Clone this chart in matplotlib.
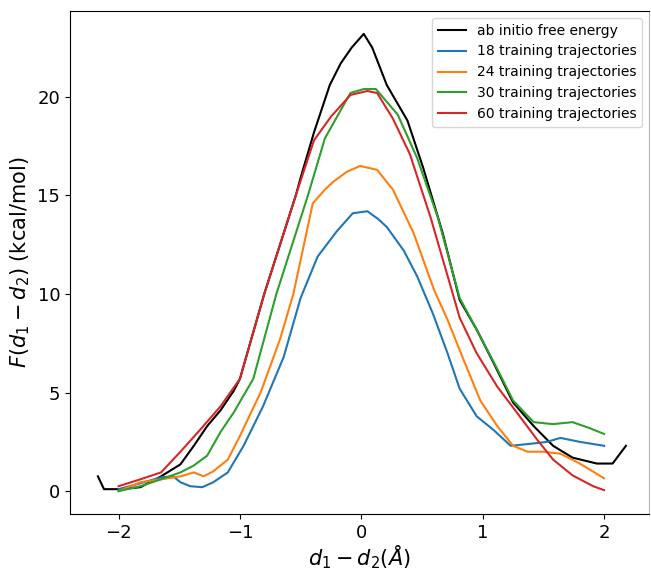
import numpy as np
import matplotlib
matplotlib.use("Agg")
import matplotlib.pyplot as plt

# values
x_abinitio = [-2.17, -2.12, -1.98, -1.82, -1.65, -1.49, -1.38, -1.27, -1.16, -1.05, -1.0,
              -0.80, -0.54, -0.50, -0.39, -0.26, -0.17, -0.08, 0.02, 0.09, 0.21, 0.38, 0.51, 0.67,
              0.81, 0.95, 1.09, 1.25, 1.42, 1.58, 1.74, 1.94, 2.07, 2.18]
y_abinitio = [0.75, 0.1, 0.1, 0.2, 0.75, 1.36, 2.3, 3.3, 4.1, 5.1, 5.7,
              10.0, 15.0, 15.9, 18.2, 20.6, 21.7, 22.5, 23.2, 22.5, 20.6, 18.8, 16.4, 13.1,
              9.7, 8.2, 6.5, 4.5, 3.3, 2.3, 1.7, 1.4, 1.4, 2.3]

x_18 = [-2.0, -1.82, -1.65, -1.55, -1.49, -1.41, -1.31, -1.22, -1.10, -0.97, -0.81,
        -0.64, -0.50, -0.36, -0.20, -0.07, 0.05, 0.14, 0.21, 0.35, 0.46, 0.59, 0.71,
        0.81, 0.95, 1.09, 1.23, 1.39, 1.53, 1.64, 1.80, 2.0]
y_18 = [0.1, 0.4, 0.7, 0.75, 0.45, 0.25, 0.2, 0.45, 0.95, 2.3, 4.3,
        6.8, 9.8, 11.9, 13.2, 14.1, 14.2, 13.8, 13.4, 12.2, 10.9, 9.0, 7.0,
        5.2, 3.8, 3.1, 2.3, 2.4, 2.5, 2.7, 2.5, 2.3]

x_24 = [-2.0, -1.82, -1.65, -1.49, -1.38, -1.30, -1.22, -1.10, -1.0, -0.83, -0.67,
        -0.56, -0.40, -0.30, -0.23, -0.12, -0.01, 0.13, 0.26, 0.43, 0.60, 0.71, 0.84,
        0.98, 1.12, 1.25, 1.37, 1.50, 1.64, 1.80, 2.0]
y_24 = [0.0, 0.45, 0.6, 0.75, 0.95, 0.75, 1.0, 1.6, 2.8, 5.0, 7.7,
        10.0, 14.6, 15.3, 15.7, 16.2, 16.5, 16.3, 15.3, 13.1, 10.2, 8.7, 6.7,
        4.6, 3.3, 2.3, 2.0, 2.0, 1.9, 1.4, 0.65]

x_30 = [-2.0, -1.82, -1.65, -1.49, -1.38, -1.27, -1.16, -1.05, -0.89, -0.70, -0.44,
        -0.30, -0.09, 0.02, 0.12, 0.30, 0.46, 0.63, 0.81, 0.95, 1.12, 1.25, 1.42,
        1.58, 1.74, 1.88, 2.0]
y_30 = [0.0, 0.25, 0.6, 0.95, 1.3, 1.8, 3.0, 4.0, 5.7, 10.0, 15.0,
        17.9, 20.2, 20.4, 20.4, 19.1, 16.9, 13.9, 9.8, 8.2, 6.2, 4.6, 3.5,
        3.4, 3.5, 3.2, 2.9]

x_60 = [-2.0, -1.82, -1.65, -1.49, -1.33, -1.16, -1.0, -0.80, -0.54, -0.39, -0.25,
        -0.09, 0.05, 0.13, 0.26, 0.40, 0.57, 0.74, 0.81, 0.95, 1.12, 1.28, 1.45,
        1.58, 1.74, 1.91, 2.0]
y_60 = [0.25, 0.6, 0.95, 2.0, 3.1, 4.3, 5.7, 10.0, 15.0, 17.8, 19.0,
        20.1, 20.3, 20.2, 18.9, 17.1, 13.9, 10.3, 8.8, 7.0, 5.3, 4.0, 2.6,
        1.6, 0.8, 0.25, 0.05]

labels = ["ab initio free energy", "18 training trajectories", "24 training trajectories",
          "30 training trajectories", "60 training trajectories"]

fig = plt.figure(figsize=(6.51, 5.71), dpi=100)
ax = fig.add_axes([70 / 651, 57 / 571, 579 / 651, 503 / 571])

ax.plot(x_abinitio, y_abinitio, color="k", lw=1.5, label=labels[0])
ax.plot(x_18, y_18, color="tab:blue", lw=1.5, label=labels[1])
ax.plot(x_24, y_24, color="tab:orange", lw=1.5, label=labels[2])
ax.plot(x_30, y_30, color="tab:green", lw=1.5, label=labels[3])
ax.plot(x_60, y_60, color="tab:red", lw=1.5, label=labels[4])

ax.set_xlim(-2.4, 2.37)
ax.set_ylim(-1.16, 24.36)
ax.set_xticks([-2, -1, 0, 1, 2])
ax.set_yticks([0, 5, 10, 15, 20])
ax.tick_params(labelsize=13)
ax.set_xlabel(r"$d_1 - d_2(Å)$", fontsize=15, labelpad=1)
ax.set_ylabel(r"$F(d_1 - d_2)$ (kcal/mol)", fontsize=15)
ax.spines["right"].set_alpha(0.3)
ax.legend(loc="upper right", fontsize=10)

fig.savefig("out.png", dpi=100)
